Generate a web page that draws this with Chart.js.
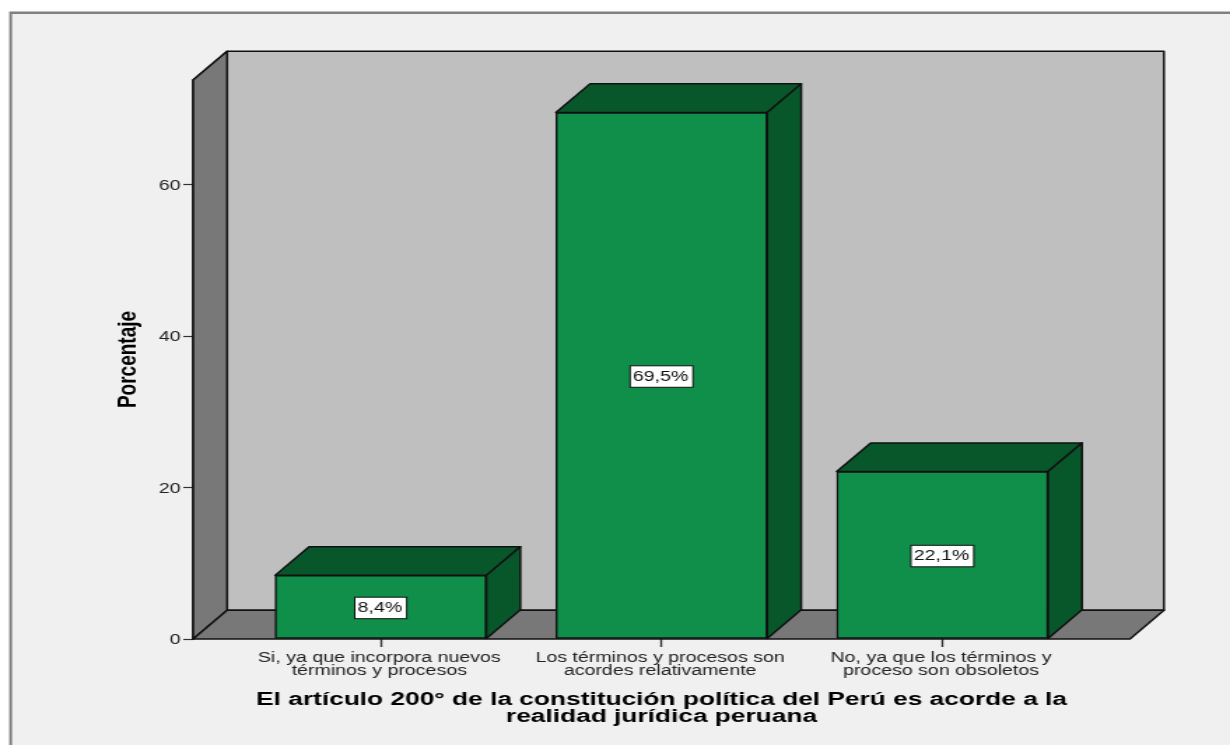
<!DOCTYPE html>
<html>
<head>
<meta charset="utf-8">
<style>
html,body{margin:0;padding:0;background:#fff;overflow:hidden;width:1230px;height:745px}
#wrap{position:absolute;left:0;top:0;width:879px;height:745px;transform-origin:0 0;transform:scaleX(1.39932);filter:blur(0.3px)}
canvas{display:block}
</style>
<script src="https://cdn.jsdelivr.net/npm/chart.js@4"></script>
</head>
<body>
<div id="wrap"><canvas id="c" width="879" height="745"></canvas></div>
<script>
const categories = [
  ['Si, ya que incorpora nuevos','términos y procesos'],
  ['Los términos y procesos son','acordes relativamente'],
  ['No, ya que los términos y','proceso son obsoletos']
];
const percentages = [8.4, 69.5, 22.1];
const valueLabels = ['8,4%', '69,5%', '22,1%'];
const yTicks = [0, 20, 40, 60];
const xTitle = ['El artículo 200° de la constitución política del Perú es acorde a la','realidad jurídica peruana'];
const yTitle = 'Porcentaje';

const FONT = '"Liberation Sans", Arial, sans-serif';
const DX = 24.3, DY = 28.7, LINE = 1.5;
const INK = '#111';
const C = {panel:'#f0f0f0', frame:'#808080', wall:'#bfbfbf', side:'#787878', bar:'#0f8f4a', dark:'#08572b'};

function poly(ctx, pts, fill) {
  ctx.beginPath();
  pts.forEach((p,i)=> i ? ctx.lineTo(p[0],p[1]) : ctx.moveTo(p[0],p[1]));
  ctx.closePath();
  ctx.fillStyle = fill; ctx.fill();
  ctx.lineWidth = LINE; ctx.strokeStyle = INK; ctx.lineJoin='round'; ctx.stroke();
}

const scene = {
  id:'scene',
  beforeDraw(chart){
    const ctx = chart.ctx;
    ctx.save();
    ctx.fillStyle = C.frame;
    ctx.fillRect(6.6,11.5,chart.width-6.6,chart.height-11.5);
    ctx.fillStyle = C.panel;
    ctx.fillRect(8.6,14,chart.width-8.6,chart.height-14);
    ctx.restore();
  },
  beforeDatasetsDraw(chart){
    const ctx = chart.ctx, a = chart.chartArea;
    ctx.save();
    poly(ctx, [[a.left,a.top],[a.left+DX,a.top-DY],[a.right+DX,a.top-DY],[a.right+DX,a.bottom-DY],[a.left+DX,a.bottom-DY],[a.left,a.bottom]], C.wall);
    poly(ctx, [[a.left,a.top],[a.left+DX,a.top-DY],[a.left+DX,a.bottom-DY],[a.left,a.bottom]], C.side);
    poly(ctx, [[a.left,a.bottom],[a.left+DX,a.bottom-DY],[a.right+DX,a.bottom-DY],[a.right,a.bottom]], C.side);
    chart.getDatasetMeta(0).data.forEach(b=>{
      const l=b.x-b.width/2, r=b.x+b.width/2;
      poly(ctx, [[l,b.y],[l+DX,b.y-DY],[r+DX,b.y-DY],[r,b.y]], C.dark);
      poly(ctx, [[r,b.y],[r+DX,b.y-DY],[r+DX,b.base-DY],[r,b.base]], C.dark);
    });
    ctx.restore();
  },
  afterDatasetsDraw(chart){
    const ctx = chart.ctx;
    ctx.save();
    ctx.font = '14px '+FONT;
    ctx.textAlign='center'; ctx.textBaseline='middle';
    chart.getDatasetMeta(0).data.forEach((b,i)=>{
      const t = valueLabels[i], w = ctx.measureText(t).width+5.2, h=21.5, cy=(b.y+b.base)/2+1;
      ctx.fillStyle='#fff'; ctx.fillRect(b.x-w/2,cy-h/2,w,h);
      ctx.strokeStyle=INK; ctx.lineWidth=1; ctx.strokeRect(b.x-w/2,cy-h/2,w,h);
      ctx.fillStyle='#111'; ctx.fillText(t,b.x-0.6,cy+0.5);
    });
    ctx.restore();
  }
};

new Chart(document.getElementById('c'), {
  type:'bar',
  data:{
    datasets:[{
      data: percentages.map((v,i)=>({x:i,y:v})),
      backgroundColor:C.bar, borderColor:INK, borderWidth:LINE, barThickness:151, borderSkipped:false
    }]
  },
  plugins:[scene],
  options:{
    responsive:false, animation:false, devicePixelRatio:1,
    layout:{padding:{left:0,right:71.5,top:80,bottom:0}},
    plugins:{legend:{display:false},tooltip:{enabled:false},title:{display:false}},
    scales:{
      x:{
        type:'linear', min:-0.668, max:2.668, offset:false,
        afterBuildTicks(s){ s.ticks = categories.map((c,i)=>({value:i})); },
        afterFit(s){ s.height = 106; },
        border:{display:false},
        grid:{offset:false, drawOnChartArea:false, drawTicks:true, tickLength:8, tickColor:'#333', tickWidth:1.4},
        ticks:{autoSkip:false, maxRotation:0, minRotation:0, padding:4, labelOffset:-1, color:'#222',
          font:{family:FONT,size:14,lineHeight:0.98},
          callback:(v)=>categories[v]},
        title:{display:true, text:xTitle, color:'#000',
          font:{family:FONT,size:18.8,weight:'bold',lineHeight:0.92}, padding:{top:0,bottom:19.5}}
      },
      y:{
        min:0, max:73.8,
        afterBuildTicks(s){ s.ticks = yTicks.map(v=>({value:v})); },
        afterFit(s){ s.width = 138; },
        border:{display:false},
        grid:{drawOnChartArea:false, drawTicks:true, tickLength:7, tickColor:'#333', tickWidth:1.2},
        ticks:{padding:2, color:'#222', labelOffset:1.5, font:{family:FONT,size:14}},
        title:{display:true, text:yTitle, color:'#000',
          font:{family:FONT,size:19,weight:'bold'}, padding:{top:80,bottom:0}}
      }
    }
  }
});
</script>
</body>
</html>
